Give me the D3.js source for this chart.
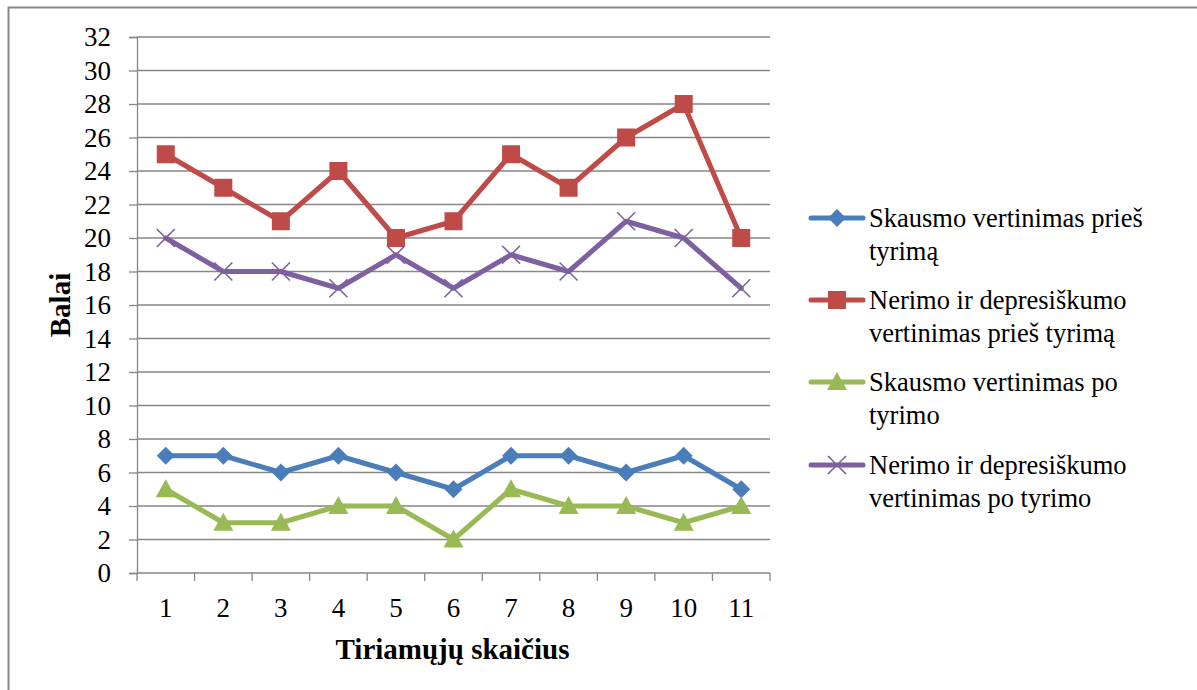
<!DOCTYPE html>
<html>
<head>
<meta charset="utf-8">
<script src="https://cdn.jsdelivr.net/npm/d3@7"></script>
<style>
  html, body { margin: 0; padding: 0; background: #fff; }
  svg { display: block; }
  text { font-family: "Liberation Serif", "Times New Roman", serif; fill: #000; }
</style>
</head>
<body>
<svg id="chart" width="1197" height="690"></svg>
<script>
// Respondent numbers on the x axis
const categories = ["1", "2", "3", "4", "5", "6", "7", "8", "9", "10", "11"];

// Scores per respondent
const painBefore = [7, 7, 6, 7, 6, 5, 7, 7, 6, 7, 5];
const anxietyBefore = [25, 23, 21, 24, 20, 21, 25, 23, 26, 28, 20];
const painAfter = [5, 3, 3, 4, 4, 2, 5, 4, 4, 3, 4];
const anxietyAfter = [20, 18, 18, 17, 19, 17, 19, 18, 21, 20, 17];

const yTicks = [0, 2, 4, 6, 8, 10, 12, 14, 16, 18, 20, 22, 24, 26, 28, 30, 32];

const seriesNames = [
  ["Skausmo vertinimas prieš", "tyrimą"],
  ["Nerimo ir depresiškumo", "vertinimas prieš tyrimą"],
  ["Skausmo vertinimas po", "tyrimo"],
  ["Nerimo ir depresiškumo", "vertinimas po tyrimo"]
];
const seriesValues = [painBefore, anxietyBefore, painAfter, anxietyAfter];
const seriesColors = ["#4A7EBB", "#BE4B48", "#98B954", "#7D60A0"];
const seriesMarkers = ["diamond", "square", "triangle", "cross"];

const svg = d3.select("#chart");

// Outer frame (only top and left edges fall inside the view)
svg.append("rect")
  .attr("x", 8.5).attr("y", 7.5)
  .attr("width", 1300).attr("height", 800)
  .attr("fill", "none").attr("stroke", "#878787").attr("stroke-width", 2);

const plot = { left: 137, right: 770, top: 37, bottom: 573 };

const x = d3.scaleBand().domain(categories).range([plot.left, plot.right]);
const y = d3.scaleLinear().domain([0, 32]).range([plot.bottom, plot.top]);

const gridColor = "#868686";

// Horizontal gridlines
svg.append("g")
  .selectAll("line")
  .data(yTicks.filter(d => d > 0))
  .join("line")
  .attr("x1", plot.left).attr("x2", plot.right)
  .attr("y1", d => y(d)).attr("y2", d => y(d))
  .attr("stroke", gridColor).attr("stroke-width", 1.3);

// Y axis
const yAxis = svg.append("g")
  .attr("transform", `translate(${plot.left},0)`)
  .call(d3.axisLeft(y).tickValues(yTicks).tickSize(8).tickPadding(18));
yAxis.select(".domain").attr("stroke", gridColor).attr("stroke-width", 1.3);
yAxis.selectAll(".tick line").attr("stroke", gridColor).attr("stroke-width", 1.3);
yAxis.selectAll(".tick text")
  .attr("font-family", "Liberation Serif").attr("font-size", 27).attr("fill", "#000");

// X axis with ticks at band boundaries
const xAxisG = svg.append("g").attr("transform", `translate(0,${plot.bottom})`);
xAxisG.append("line")
  .attr("x1", plot.left).attr("x2", plot.right)
  .attr("stroke", gridColor).attr("stroke-width", 1.3);
const boundaries = categories.map(c => x(c)).concat([plot.right]);
xAxisG.selectAll("line.tk")
  .data(boundaries)
  .join("line").attr("class", "tk")
  .attr("x1", d => d).attr("x2", d => d)
  .attr("y1", 0).attr("y2", 8)
  .attr("stroke", gridColor).attr("stroke-width", 1.3);
xAxisG.selectAll("text")
  .data(categories)
  .join("text")
  .attr("x", d => x(d) + x.bandwidth() / 2)
  .attr("y", 44)
  .attr("text-anchor", "middle")
  .attr("font-size", 27)
  .text(d => d);

// Axis titles
svg.append("text")
  .attr("x", (plot.left + plot.right) / 2 - 1)
  .attr("y", 659)
  .attr("text-anchor", "middle")
  .attr("font-size", 29).attr("font-weight", "bold")
  .text("Tiriamųjų skaičius");
svg.append("text")
  .attr("transform", "translate(70,305) rotate(-90)")
  .attr("text-anchor", "middle")
  .attr("font-size", 29).attr("font-weight", "bold")
  .text("Balai");

// Marker shapes
function drawMarker(g, type, color) {
  if (type === "diamond") {
    g.append("path").attr("d", "M0,-9L9,0L0,9L-9,0Z").attr("fill", color);
  } else if (type === "square") {
    g.append("rect").attr("x", -9).attr("y", -9).attr("width", 18).attr("height", 18).attr("fill", color);
  } else if (type === "triangle") {
    g.append("path").attr("d", "M0,-10L10,8L-10,8Z").attr("fill", color);
  } else if (type === "cross") {
    g.append("path").attr("d", "M-9,-9L9,9M-9,9L9,-9")
      .attr("stroke", color).attr("stroke-width", 1.6).attr("fill", "none");
  }
}

const line = d3.line()
  .x((d, i) => x(categories[i]) + x.bandwidth() / 2)
  .y(d => y(d));

seriesValues.forEach((vals, si) => {
  const g = svg.append("g");
  g.append("path")
    .attr("d", line(vals))
    .attr("fill", "none")
    .attr("stroke", seriesColors[si])
    .attr("stroke-width", 5)
    .attr("stroke-linejoin", "round")
    .attr("stroke-linecap", "round");
  vals.forEach((v, i) => {
    const mg = g.append("g")
      .attr("transform", `translate(${x(categories[i]) + x.bandwidth() / 2},${y(v)})`);
    drawMarker(mg, seriesMarkers[si], seriesColors[si]);
  });
});

// Legend
const legendY = [218, 300, 382, 465];
seriesNames.forEach((lines, si) => {
  const g = svg.append("g").attr("transform", `translate(0,${legendY[si]})`);
  g.append("line")
    .attr("x1", 811).attr("x2", 863)
    .attr("stroke", seriesColors[si]).attr("stroke-width", 5)
    .attr("stroke-linecap", "round");
  const mg = g.append("g").attr("transform", "translate(837,0)");
  drawMarker(mg, seriesMarkers[si], seriesColors[si]);
  lines.forEach((t, li) => {
    g.append("text")
      .attr("x", 869)
      .attr("y", 9 + li * 33)
      .attr("font-size", 26.5)
      .text(t);
  });
});
</script>
</body>
</html>
